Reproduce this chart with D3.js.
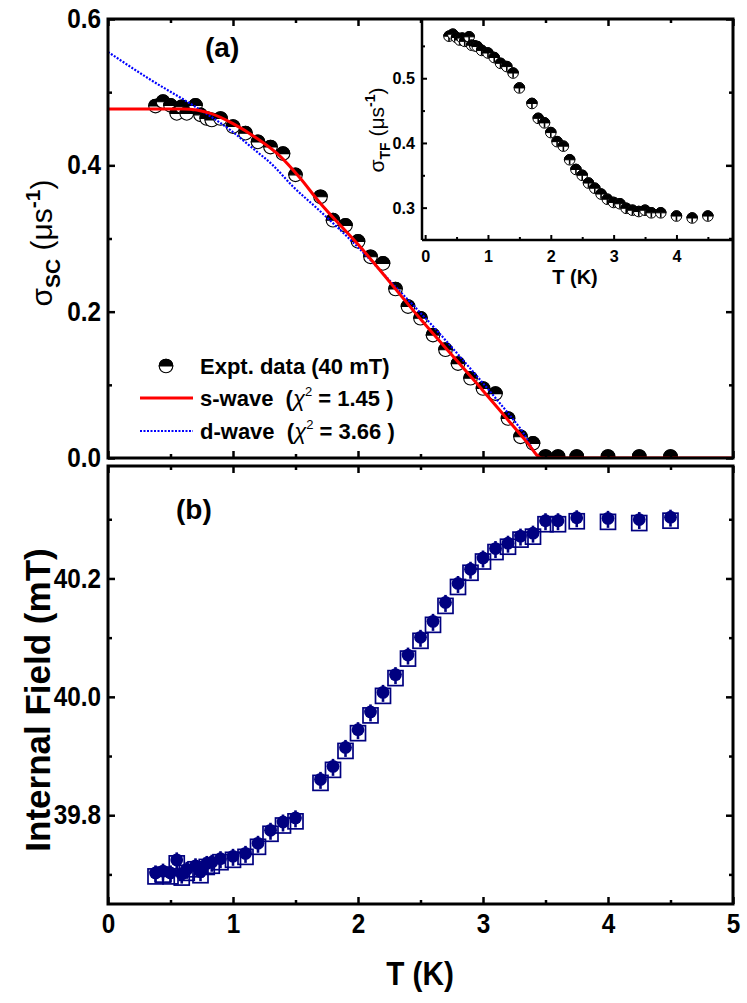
<!DOCTYPE html>
<html><head><meta charset="utf-8">
<script src="https://cdn.jsdelivr.net/npm/d3@7"></script>
<style>
body{margin:0;background:#fff}
svg{display:block}
text{font-family:"Liberation Sans",Arial,Helvetica,sans-serif;font-weight:bold;fill:#000;white-space:pre}
</style>
</head><body>
<svg id="c" width="747" height="1003"></svg>
<script>
// ---------------- data ----------------
const T = [0.38,0.44,0.5,0.55,0.59,0.63,0.7,0.74,0.79,0.83,0.9,1.0,1.1,1.2,1.3,1.4,1.5,1.7,1.8,1.9,2.0,2.1,2.2,2.3,2.4,2.5,2.6,2.7,2.8,2.9,3.0,3.1,3.2,3.3,3.4,3.5,3.6,3.75,4.0,4.25,4.5];
const sigmaSC = [0.481,0.487,0.482,0.471,0.480,0.471,0.482,0.469,0.464,0.462,0.464,0.453,0.444,0.432,0.425,0.416,0.387,0.357,0.325,0.318,0.296,0.275,0.266,0.231,0.207,0.191,0.168,0.148,0.129,0.109,0.095,0.088,0.054,0.029,0.020,0.002,0.002,0.002,0.002,0.002,0.002];
const sigmaTF = [0.565,0.568,0.563,0.559,0.562,0.557,0.564,0.551,0.550,0.549,0.543,0.539,0.532,0.523,0.518,0.508,0.485,0.461,0.438,0.431,0.416,0.402,0.395,0.374,0.359,0.350,0.338,0.330,0.321,0.313,0.308,0.306,0.299,0.296,0.294,0.296,0.292,0.292,0.287,0.284,0.287];
const field = [39.700,39.703,39.700,39.722,39.698,39.706,39.712,39.702,39.716,39.718,39.724,39.728,39.733,39.750,39.772,39.786,39.793,39.858,39.880,39.912,39.942,39.972,40.005,40.035,40.068,40.098,40.125,40.157,40.189,40.213,40.232,40.248,40.257,40.269,40.274,40.295,40.295,40.300,40.299,40.297,40.301];
// fit curves
const sWaveT = [0,0.3,0.6,0.82,1.0,1.19,1.38,1.54,1.68,2.0,2.5,3.0,3.2,3.35,3.47,4.0,5.0];
const sWaveV = [0.477,0.477,0.477,0.471,0.457,0.437,0.412,0.382,0.352,0.292,0.190,0.092,0.052,0.022,0.0,0.0,0.0];
const dWaveT = [0,0.34,0.68,0.98,1.16,1.32,1.48,1.68,2.0,2.3,2.6,2.9,3.1,3.3,3.47,4.0,5.0];
const dWaveV = [0.555,0.517,0.482,0.448,0.423,0.400,0.371,0.340,0.288,0.234,0.180,0.122,0.082,0.040,0.0,0.0,0.0];
// ticks
const xMajor = [0,1,2,3,4,5], xMinor = [0.5,1.5,2.5,3.5,4.5];
const yAMajor = [0,0.2,0.4,0.6], yAMinor = [0.1,0.3,0.5];
const yBMajor = [39.8,40.0,40.2], yBMinor = [39.7,39.9,40.1,40.3];
const xIMajor = [0,1,2,3,4], xIMinor = [0.5,1.5,2.5,3.5,4.5];
const yIMajor = [0.3,0.4,0.5], yIMinor = [0.35,0.45,0.55];
const legendLabels = ["Expt. data (40 mT)", "s-wave", "d-wave"];
const chiValues = ["1.45","3.66"];

// ---------------- scales ----------------
const svg = d3.select("#c");
const L = 108, R = 733;
const aTop = 19, aBot = 458, bTop = 466, bBot = 904;
const x = d3.scaleLinear().domain([0,5]).range([L,R]);
const yA = d3.scaleLinear().domain([0,0.6]).range([aBot,aTop]);
const yB = d3.scaleLinear().domain([39.65,40.39]).range([bBot,bTop]);
const iL = 422, iR = 733, iT = 20, iB = 240;
const xI = d3.scaleLinear().domain([-0.05,4.9]).range([iL,iR]);
const yI = d3.scaleLinear().domain([0.25,0.59]).range([iB,iT]);

function condense(sel, f){
  sel.each(function(){
    const n = this.getComputedTextLength();
    if(n>0){ this.setAttribute("textLength", n*f); this.setAttribute("lengthAdjust","spacingAndGlyphs"); }
  });
}
function styleAxis(g, w, fs){
  g.select(".domain").remove();
  g.selectAll(".tick line").attr("stroke","#000").attr("stroke-width",w);
  g.selectAll(".tick text").attr("font-size",fs).attr("font-weight","bold").attr("fill","#000");
  g.attr("font-family",null).attr("font-size",null);
}
function axes(xs, ys, top, bot, left, right, yMaj, yMin, yFmt, xLabels, xMaj, xMin, fs, tw, maj, min, mirror, cf){
  const g = svg.append("g");
  const gb = g.append("g").attr("transform",`translate(0,${bot})`)
    .call(d3.axisBottom(xs).tickValues(xMaj).tickSize(-maj).tickPadding(10).tickFormat(xLabels ? d3.format("d") : ""));
  styleAxis(gb,tw,fs);
  const gbm = g.append("g").attr("transform",`translate(0,${bot})`)
    .call(d3.axisBottom(xs).tickValues(xMin).tickSize(-min).tickFormat(""));
  styleAxis(gbm,tw,fs);
  const gl = g.append("g").attr("transform",`translate(${left},0)`)
    .call(d3.axisLeft(ys).tickValues(yMaj).tickSize(-maj).tickPadding(7).tickFormat(yFmt));
  styleAxis(gl,tw,fs);
  const glm = g.append("g").attr("transform",`translate(${left},0)`)
    .call(d3.axisLeft(ys).tickValues(yMin).tickSize(-min).tickFormat(""));
  styleAxis(glm,tw,fs);
  if(mirror){
    const gt = g.append("g").attr("transform",`translate(0,${top})`)
      .call(d3.axisTop(xs).tickValues(xMaj).tickSize(-maj).tickFormat(""));
    styleAxis(gt,tw,fs);
    const gtm = g.append("g").attr("transform",`translate(0,${top})`)
      .call(d3.axisTop(xs).tickValues(xMin).tickSize(-min).tickFormat(""));
    styleAxis(gtm,tw,fs);
    const gr = g.append("g").attr("transform",`translate(${right},0)`)
      .call(d3.axisRight(ys).tickValues(yMaj).tickSize(-maj).tickFormat(""));
    styleAxis(gr,tw,fs);
    const grm = g.append("g").attr("transform",`translate(${right},0)`)
      .call(d3.axisRight(ys).tickValues(yMin).tickSize(-min).tickFormat(""));
    styleAxis(grm,tw,fs);
  }
  condense(g.selectAll(".tick text").filter(function(){return this.textContent!=="";}), cf);
  return g;
}

// ---------------- panel (a) ----------------
svg.append("defs").append("clipPath").attr("id","clipA")
  .append("rect").attr("x",L).attr("y",aTop).attr("width",R-L).attr("height",aBot-aTop);

const lineA = (ts,vs) => d3.line().x((d,i)=>x(ts[i])).y((d,i)=>yA(vs[i])).curve(d3.curveMonotoneX)(ts);
const gA = svg.append("g").attr("clip-path","url(#clipA)");

function halfCircle(g, cx, cy, r, sw){
  const m = g.append("g").attr("transform",`translate(${cx},${cy})`);
  m.append("circle").attr("r",r).attr("fill","#fff").attr("stroke","#000").attr("stroke-width",sw);
  m.append("path").attr("d",`M${-r},0 A${r},${r} 0 0 1 ${r},0 Z`).attr("fill","#000").attr("stroke","#000").attr("stroke-width",sw);
  return m;
}
T.forEach((t,i)=>halfCircle(gA, x(t), yA(sigmaSC[i]), 6.8, 1.1));
gA.append("path").attr("d",lineA(dWaveT,dWaveV)).attr("fill","none").attr("stroke","#0000ff").attr("stroke-width",2.2).attr("stroke-dasharray","2,1.5");
gA.append("path").attr("d",lineA(sWaveT,sWaveV)).attr("fill","none").attr("stroke","#ff0000").attr("stroke-width",3);

axes(x, yA, aTop, aBot, L, R, yAMajor, yAMinor, d3.format(".1f"), false, xMajor, xMinor, 27, 2.5, 7, 4, true, 0.9);

// ---------------- panel (b) ----------------
const gB = svg.append("g");
T.forEach((t,i)=>{
  const cx = x(t), cy = yB(field[i]);
  const m = gB.append("g").attr("transform",`translate(${cx},${cy})`);
  m.append("rect").attr("x",-7.5).attr("y",-5.5).attr("width",15).attr("height",15)
    .attr("fill","none").attr("stroke","#000080").attr("stroke-width",1.7);
  m.append("line").attr("x1",0).attr("x2",0).attr("y1",-9).attr("y2",8).attr("stroke","#000080").attr("stroke-width",2.6);
  m.append("circle").attr("cy",-1.5).attr("r",6.4).attr("fill","#000080");
});
axes(x, yB, bTop, bBot, L, R, yBMajor, yBMinor, d3.format(".1f"), true, xMajor, xMinor, 27, 2.5, 7, 4, true, 0.9);

// frames
svg.append("rect").attr("x",L).attr("y",aTop).attr("width",R-L).attr("height",aBot-aTop).attr("fill","none").attr("stroke","#000").attr("stroke-width",3);
svg.append("rect").attr("x",L).attr("y",bTop).attr("width",R-L).attr("height",bBot-bTop).attr("fill","none").attr("stroke","#000").attr("stroke-width",3);

// ---------------- inset ----------------
const gI = svg.append("g");
T.forEach((t,i)=>{
  const m = halfCircle(gI, xI(t), yI(sigmaTF[i]), 5.3, 1);
  m.append("line").attr("x1",0).attr("x2",0).attr("y1",0).attr("y2",4.8).attr("stroke","#000").attr("stroke-width",1.6);
});
axes(xI, yI, iT, iB, iL, iR, yIMajor, yIMinor, d3.format(".1f"), true, xIMajor, xIMinor, 17, 2, 5, 3, false, 0.95);
svg.append("line").attr("x1",iL).attr("x2",iL).attr("y1",iT).attr("y2",iB).attr("stroke","#000").attr("stroke-width",2.5);
svg.append("line").attr("x1",iL).attr("x2",iR).attr("y1",iB).attr("y2",iB).attr("stroke","#000").attr("stroke-width",2.5);

// inset titles
svg.append("text").attr("x",575).attr("y",284).attr("text-anchor","middle").attr("font-size",20).text("T (K)");
const ti = svg.append("text").attr("transform","translate(384,130) rotate(-90)").attr("text-anchor","middle").attr("font-size",21);
ti.append("tspan").attr("font-weight","normal").text("σ");
ti.append("tspan").attr("font-size",14).attr("dy",6).text("TF");
ti.append("tspan").attr("dy",-6).attr("font-weight","normal").text(" (μs");
ti.append("tspan").attr("font-size",14).attr("dy",-9).text("-1");
ti.append("tspan").attr("dy",9).attr("font-weight","normal").text(")");

// ---------------- titles ----------------
const ta = svg.append("text").attr("transform","translate(52,243) rotate(-90)").attr("text-anchor","middle").attr("font-size",30);
ta.append("tspan").attr("font-weight","normal").text("σ");
ta.append("tspan").attr("font-size",21).attr("dy",8).text("SC");
ta.append("tspan").attr("dy",-8).attr("font-weight","normal").text(" (μs");
ta.append("tspan").attr("font-size",21).attr("dy",-12).text("-1");
ta.append("tspan").attr("dy",12).attr("font-weight","normal").text(")");

svg.append("text").attr("transform","translate(50,700) rotate(-90)").attr("text-anchor","middle").attr("font-size",35).text("Internal Field (mT)");
const tx = svg.append("text").attr("x",420).attr("y",985).attr("text-anchor","middle").attr("font-size",33).text("T (K)");
condense(tx, 0.9);
svg.append("text").attr("x",205).attr("y",57).attr("font-size",28).text("(a)");
svg.append("text").attr("x",176).attr("y",519).attr("font-size",28).text("(b)");

// ---------------- legend ----------------
const lg = svg.append("g");
halfCircle(lg, 166, 366, 6.8, 1.1);
lg.append("text").attr("x",200).attr("y",374).attr("font-size",22).text(legendLabels[0]);
lg.append("line").attr("x1",140).attr("x2",193).attr("y1",398).attr("y2",398).attr("stroke","#ff0000").attr("stroke-width",3);
lg.append("line").attr("x1",140).attr("x2",193).attr("y1",431).attr("y2",431).attr("stroke","#0000ff").attr("stroke-width",2.2).attr("stroke-dasharray","2,1.5");
[0,1].forEach(k=>{
  const t = lg.append("text").attr("x",200).attr("y",406+33*k).attr("font-size",22);
  t.append("tspan").text(legendLabels[k+1]+"  (");
  t.append("tspan").attr("font-weight","normal").attr("font-style","italic").text("χ");
  t.append("tspan").attr("font-size",13).attr("font-weight","normal").attr("dy",-10).text("2");
  t.append("tspan").attr("dy",10).text(" = "+chiValues[k]+" )");
});
</script>
</body></html>
